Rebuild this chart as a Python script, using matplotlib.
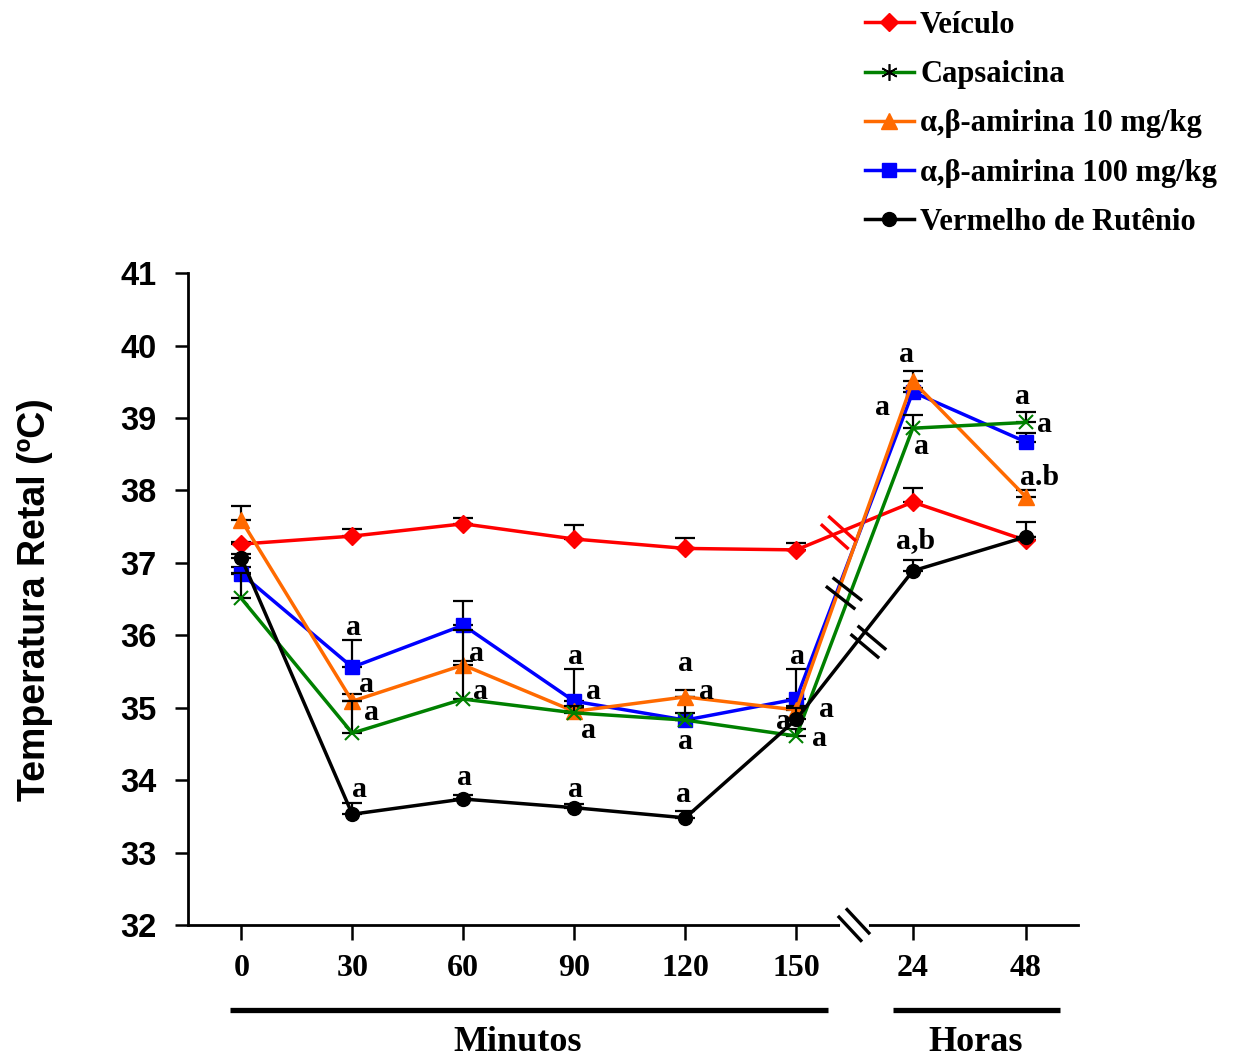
import numpy as np
import matplotlib.pyplot as plt
import matplotlib.transforms as mtransforms
from matplotlib.lines import Line2D

# time points: minutes then hours
time_labels = ["0", "30", "60", "90", "120", "150", "24", "48"]

veiculo = [37.26, 37.37, 37.54, 37.33, 37.20, 37.18, 37.84, 37.31]
veiculo_err = [0.03, 0.10, 0.08, 0.20, 0.15, 0.10, 0.20, 0.05]

capsaicina = [36.51, 34.65, 35.12, 34.93, 34.83, 34.61, 38.86, 38.94]
capsaicina_err = [0.35, 0.45, 0.95, 0.10, 0.10, 0.10, 0.18, 0.14]

amirina10 = [37.59, 35.09, 35.59, 34.95, 35.15, 34.97, 39.51, 37.91]
amirina10_err = [0.20, 0.10, 0.05, 0.05, 0.10, 0.05, 0.14, 0.10]

amirina100 = [36.85, 35.56, 36.14, 35.09, 34.83, 35.12, 39.36, 38.67]
amirina100_err = [0.10, 0.37, 0.33, 0.44, 0.32, 0.42, 0.05, 0.12]

rutenio = [37.07, 33.53, 33.74, 33.62, 33.48, 34.84, 36.89, 37.36]
rutenio_err = [0.05, 0.15, 0.05, 0.05, 0.10, 0.15, 0.15, 0.20]

yticks = [32, 33, 34, 35, 36, 37, 38, 39, 40, 41]

# x positions: a small extra gap before the hour points (axis break)
xpos = np.r_[np.arange(6), 6.05, 7.07]

SERIF = "Liberation Serif"
SANS = "Liberation Sans"

fig = plt.figure(figsize=(12.45, 10.59), dpi=100)
ax = fig.add_axes([0.151, 0.1265, 0.715, 0.6155])

series = [
    ("Veículo", veiculo, veiculo_err, "#ff0000", "D", 9),
    ("α,β-amirina 100 mg/kg", amirina100, amirina100_err, "#0000ff", "s", 10),
    ("α,β-amirina 10 mg/kg", amirina10, amirina10_err, "#ff6a00", "^", 11),
    ("Capsaicina", capsaicina, capsaicina_err, "#008000", "x", 10),
    ("Vermelho de Rutênio", rutenio, rutenio_err, "#000000", "o", 10),
]

for i, (name, vals, err, col, mk, ms) in enumerate(series):
    ax.errorbar(xpos, vals, yerr=[np.zeros(len(err)), err], fmt="none",
                ecolor="black", elinewidth=1.6, capsize=7, capthick=1.6,
                zorder=2 + i)
    ax.plot(xpos, vals, color=col, marker=mk, ms=ms, lw=2.5,
            mew=1.5 if mk == "x" else 1, zorder=3 + i)

ax.set_xlim(-0.48, 7.54)
ax.set_ylim(32, 41)
ax.set_yticks(yticks)
ax.set_yticklabels([str(t) for t in yticks], fontsize=23.5,
                   fontweight="bold", family=SANS)
ax.set_xticks(xpos)
ax.set_xticklabels(time_labels, fontsize=23, fontweight="bold", family=SERIF)
ax.tick_params(axis="x", length=11, width=1.8, pad=10)
ax.tick_params(axis="y", length=9.5, width=1.8, pad=13)
for s in ["top", "right"]:
    ax.spines[s].set_visible(False)
for s in ["left", "bottom"]:
    ax.spines[s].set_linewidth(2)

ax.set_ylabel("Temperatura Retal (ºC)", fontsize=27, fontweight="bold",
              family=SANS)
ax.yaxis.set_label_coords(-0.152, 0.5)


def break_mark(x, y, color, angle=-45, length=34, gap=11, white=False):
    # two parallel slashes centred on a data point
    t = mtransforms.ScaledTranslation(x, y, ax.transData)
    tr = mtransforms.Affine2D() + t
    a = np.deg2rad(angle)
    d = np.array([np.cos(a), np.sin(a)]) * length / 2
    nrm = np.array([np.cos(a + np.pi / 2), np.sin(a + np.pi / 2)]) * gap / 2
    if white:
        ax.plot([-gap, gap], [0, 0], color="white", lw=5, transform=tr,
                clip_on=False, zorder=20)
    for sgn in (-1, 1):
        p = sgn * nrm
        ax.plot([p[0] - d[0], p[0] + d[0]], [p[1] - d[1], p[1] + d[1]],
                color=color, lw=2.4, transform=tr, clip_on=False, zorder=21)


def on_segment(vals, xb):
    return np.interp(xb, xpos[5:7], vals[5:7])


break_mark(5.38, on_segment(veiculo, 5.38), "#ff0000", angle=-42)
break_mark(5.43, on_segment(amirina10, 5.43) - 0.25, "black", angle=-38)
break_mark(5.65, on_segment(rutenio, 5.65) - 0.2, "black", angle=-40)
break_mark(5.52, 32, "black", angle=-47, length=32, gap=11, white=True)

# significance letters: (series values, index, text, dx, dy) in pixels
letters = [
    (amirina100, 1, "a", 1, 32), (amirina10, 1, "a", 14, 9),
    (capsaicina, 1, "a", 19, 13), (rutenio, 1, "a", 7, 17),
    (amirina10, 2, "a", 13, 4), (capsaicina, 2, "a", 17, 0),
    (rutenio, 2, "a", 1, 14),
    (amirina100, 3, "a", 1, 37), (amirina100, 3, "a", 19, 2),
    (capsaicina, 3, "a", 14, -25), (rutenio, 3, "a", 1, 11),
    (amirina10, 4, "a", 0, 26), (amirina10, 4, "a", 21, -2),
    (capsaicina, 4, "a", 0, -29), (rutenio, 4, "a", -2, 16),
    (amirina100, 5, "a", 1, 35), (amirina10, 5, "a", 30, -7),
    (rutenio, 5, "a", -13, -10), (capsaicina, 5, "a", 23, -10),
    (amirina10, 6, "a", -6, 19), (amirina100, 6, "a", -30, -23),
    (capsaicina, 6, "a", 9, -26), (rutenio, 6, "a,b", 3, 23),
    (capsaicina, 7, "a", -4, 18), (capsaicina, 7, "a", 18, -10),
    (amirina10, 7, "a.b", 14, 12),
]
for vals, idx, txt, dx, dy in letters:
    ax.annotate(txt, (xpos[idx], vals[idx]), xytext=(dx, dy),
                textcoords="offset pixels", ha="center", va="baseline",
                fontsize=21.5, fontweight="bold", family=SERIF, zorder=30)

# period bars under the axis
bt = mtransforms.blended_transform_factory(ax.transData, ax.transAxes)
ax.plot([-0.1, 5.29], [-0.130, -0.130], color="black", lw=3.8,
        transform=bt, clip_on=False, solid_capstyle="butt")
ax.plot([5.87, 7.38], [-0.130, -0.130], color="black", lw=3.8,
        transform=bt, clip_on=False, solid_capstyle="butt")
ax.text(2.49, -0.1925, "Minutos", transform=bt, ha="center", va="baseline",
        fontsize=26, fontweight="bold", family=SERIF)
ax.text(6.62, -0.1925, "Horas", transform=bt, ha="center", va="baseline",
        fontsize=26, fontweight="bold", family=SERIF)

handles = [
    Line2D([], [], color="#ff0000", marker="D", ms=9, lw=2.5),
    Line2D([], [], color="#008000", marker=(6, 2, 0), ms=12, mec="black",
           mew=1.2, lw=2.5),
    Line2D([], [], color="#ff6a00", marker="^", ms=11, lw=2.5),
    Line2D([], [], color="#0000ff", marker="s", ms=10, lw=2.5),
    Line2D([], [], color="#000000", marker="o", ms=10, lw=2.5),
]
names = ["Veículo", "Capsaicina", "α,β-amirina 10 mg/kg",
         "α,β-amirina 100 mg/kg", "Vermelho de Rutênio"]
fig.legend(handles, names, loc="upper left",
           bbox_to_anchor=(0.685, 1.001), frameon=False,
           prop={"family": SERIF, "weight": "bold", "size": 22},
           handlelength=1.6, handletextpad=0.2, labelspacing=0.66,
           borderaxespad=0)

fig.savefig("out.png", dpi=100)
